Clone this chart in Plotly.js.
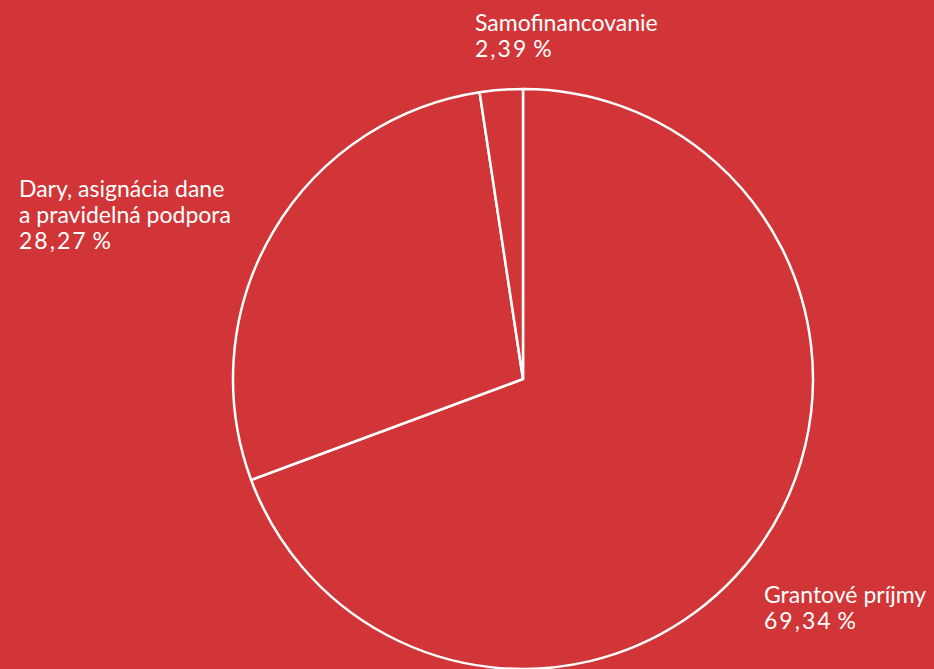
<!DOCTYPE html>
<html>
<head>
<meta charset="utf-8">
<script src="https://cdn.plot.ly/plotly-3.0.1.min.js"></script>
<style>html,body{margin:0;padding:0;background:#d13537;}</style>
</head>
<body>
<div id="chart" style="width:934px;height:669px;"></div>
<script>
var categories = ["Grantové príjmy", "Dary, asignácia dane<br>a pravidelná podpora", "Samofinancovanie"];
var values = [69.34, 28.27, 2.39];
var valueLabels = ["69,34 %", "28,27 %", "2,39 %"];

var bg = "#d13537";
var W = 934, H = 669;
var labelPos = [
  {x: 762, y: 594},
  {x: 17, y: 188},
  {x: 473, y: 22}
];
var lineStep = 26;

var annotations = [];
var valueIdx = [];
categories.forEach(function(c, i){
  var lines = c.split("<br>");
  lines.push(valueLabels[i]);
  lines.forEach(function(t, k){
    if (k === lines.length - 1) valueIdx.push(annotations.length);
    annotations.push({
      text: t,
      xref: "paper", yref: "paper",
      x: labelPos[i].x / W, y: 1 - (labelPos[i].y + k * lineStep) / H,
      xanchor: "left", yanchor: "middle", align: "left",
      showarrow: false,
      font: {family: "Lato, 'Open Sans', sans-serif", size: 23, color: "#ffffff"}
    });
  });
});

var trace = {
  type: "pie",
  labels: categories,
  values: values,
  sort: false,
  direction: "clockwise",
  rotation: 0,
  textinfo: "none",
  hoverinfo: "label+percent",
  marker: {colors: [bg, bg, bg], line: {color: "#ffffff", width: 2.5}},
  domain: {x: [233 / W, 813 / W], y: [0, 580 / H]},
  showlegend: false
};

Plotly.newPlot("chart", [trace], {
  width: W, height: H,
  margin: {l: 0, r: 0, t: 0, b: 0},
  paper_bgcolor: bg,
  plot_bgcolor: bg,
  showlegend: false,
  annotations: annotations
}, {displayModeBar: false}).then(function(gd){
  valueIdx.forEach(function(idx){
    var el = gd.querySelector('.annotation[data-index="' + idx + '"] text');
    if (el) { el.style.letterSpacing = "2px"; el.style.wordSpacing = "-3px"; }
  });
});
</script>
</body>
</html>
